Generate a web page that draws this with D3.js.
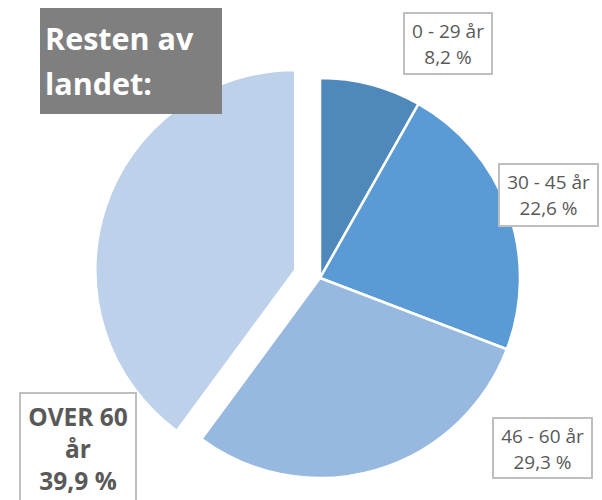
<!DOCTYPE html>
<html>
<head>
<meta charset="utf-8">
<script src="https://cdn.jsdelivr.net/npm/d3@7"></script>
<style>
  body { margin: 0; background: #fff; }
  svg { display: block; }
</style>
</head>
<body>
<svg width="602" height="500"></svg>
<script>
// data
const categories = ["0 - 29 år", "30 - 45 år", "46 - 60 år", "OVER 60 år"];
const shares = [8.2, 22.6, 29.3, 39.9];
const shareLabels = ["8,2 %", "22,6 %", "29,3 %", "39,9 %"];
const colors = ["#4f89bc", "#5b9bd5", "#98b9df", "#bdd1ea"];

// layout
const svg = d3.select("svg"),
    cx = 320,
    cy = 278,
    radius = 200,
    explode = 26;

// label boxes (x, y, w, h) - placed like the original
const boxes = [
    { x: 404, y: 13, w: 88, h: 61 },
    { x: 499, y: 164, w: 99, h: 62 },
    { x: 493, y: 418, w: 99, h: 60 },
    { x: 20, y: 393, w: 116, h: 120 }
];

const pie = d3.pie().sort(null).value(d => d);
const arc = d3.arc().innerRadius(0).outerRadius(radius);
const arcs = pie(shares);

const g = svg.append("g").attr("transform", `translate(${cx},${cy})`);

g.selectAll("path")
    .data(arcs)
    .enter()
    .append("path")
    .attr("d", arc)
    .attr("fill", (d, i) => colors[i])
    .attr("stroke", "#fff")
    .attr("stroke-width", 2.5)
    .attr("stroke-linejoin", "round")
    .attr("transform", (d, i) => {
        if (i !== 3) return null;
        const a = (d.startAngle + d.endAngle) / 2;
        return `translate(${Math.sin(a) * explode},${-Math.cos(a) * explode})`;
    });

// title box
svg.append("rect")
    .attr("x", 40).attr("y", 8)
    .attr("width", 182).attr("height", 106)
    .attr("fill", "#7f7f7f");

svg.append("text")
    .attr("font-family", "Open Sans")
    .attr("font-weight", "bold")
    .attr("font-size", 30.5)
    .attr("fill", "#fff")
    .selectAll("tspan")
    .data(["Resten av", "landet:"])
    .enter()
    .append("tspan")
    .attr("x", 45)
    .attr("y", (d, i) => 50 + i * 44.5)
    .text(d => d);

// data labels
const labels = svg.append("g");
boxes.forEach((b, i) => {
    labels.append("rect")
        .attr("x", b.x).attr("y", b.y)
        .attr("width", b.w).attr("height", b.h)
        .attr("fill", "#fff")
        .attr("stroke", "#bfbfbf")
        .attr("stroke-width", 2);

    const big = i === 3;
    const lines = big
        ? ["OVER 60", "år", shareLabels[i]]
        : [categories[i], shareLabels[i]];
    const t = labels.append("text")
        .attr("font-family", "Open Sans")
        .attr("font-weight", big ? "bold" : "normal")
        .attr("font-size", big ? 24.5 : 19)
        .attr("fill", "#595959")
        .attr("text-anchor", "middle");
    t.selectAll("tspan")
        .data(lines)
        .enter()
        .append("tspan")
        .attr("x", b.x + b.w / 2)
        .attr("y", (d, j) => big ? b.y + 33 + j * 32 : b.y + 25 + j * 26)
        .text(d => d);
});
</script>
</body>
</html>
